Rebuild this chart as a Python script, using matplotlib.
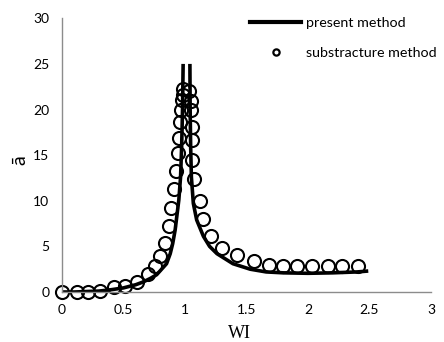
import numpy as np
import matplotlib
matplotlib.use("Agg")
import matplotlib.pyplot as plt
from matplotlib.lines import Line2D

# present method, left and right branches of the resonance curve
x_left = [0.0, 0.1, 0.2, 0.3, 0.4, 0.5, 0.6, 0.66, 0.72, 0.77, 0.81, 0.85,
          0.88, 0.9, 0.92, 0.93, 0.95, 0.964, 0.973, 0.98, 0.985]
y_left = [0.0, 0.0, 0.05, 0.1, 0.25, 0.45, 0.8, 1.1, 1.5, 1.9, 2.5, 3.1,
          4.2, 5.3, 6.8, 7.9, 10.1, 12.6, 16.0, 20.0, 25.0]
x_right = [1.04, 1.042, 1.046, 1.052, 1.068, 1.095, 1.15, 1.2, 1.26, 1.39,
           1.53, 1.66, 1.8, 2.0, 2.2, 2.4, 2.49]
y_right = [25.0, 20.0, 16.0, 12.6, 9.7, 7.9, 6.1, 5.0, 4.2, 3.1,
           2.5, 2.2, 2.1, 2.05, 2.1, 2.2, 2.3]

# substructure method
x_sub = [0.0, 0.12, 0.21, 0.31, 0.42, 0.51, 0.61, 0.70, 0.76, 0.80, 0.84,
         0.87, 0.89, 0.91, 0.93, 0.945, 0.955, 0.962, 0.968, 0.975, 0.982,
         0.986, 1.035, 1.045, 1.05, 1.055, 1.06, 1.06, 1.07, 1.12, 1.15,
         1.21, 1.30, 1.42, 1.56, 1.68, 1.80, 1.91, 2.03, 2.16, 2.28, 2.41]
y_sub = [0.0, 0.0, 0.05, 0.1, 0.5, 0.7, 1.15, 2.0, 2.8, 3.9, 5.4,
         7.2, 9.2, 11.3, 13.3, 15.2, 16.9, 18.6, 19.9, 21.0, 21.6,
         22.2, 22.0, 20.9, 19.9, 18.1, 16.7, 14.5, 12.4, 10.0, 8.0,
         6.1, 4.8, 4.05, 3.4, 3.0, 2.9, 2.8, 2.8, 2.8, 2.8, 2.8]

x_ticks = [0, 0.5, 1, 1.5, 2, 2.5, 3]
x_tick_labels = ["0", "0.5", "1", "1.5", "2", "2.5", "3"]
y_ticks = [0, 5, 10, 15, 20, 25, 30]

fig = plt.figure(figsize=(4.44, 3.42), dpi=100)
ax = fig.add_axes([0.1396, 0.1462, 0.8311, 0.8003])

ax.plot(x_left, y_left, color="black", lw=2.6, solid_capstyle="butt")
ax.plot(x_right, y_right, color="black", lw=2.6, solid_capstyle="butt")
ax.plot(x_sub, y_sub, ls="none", marker="o", ms=9.4, mfc="none",
        mec="black", mew=1.5, clip_on=False)

ax.set_xlim(0, 3)
ax.set_ylim(0, 30)
ax.set_xticks(x_ticks)
ax.set_xticklabels(x_tick_labels)
ax.set_yticks(y_ticks)
ax.tick_params(length=0, labelsize=10, pad=9)
for lab in ax.get_xticklabels() + ax.get_yticklabels():
    lab.set_family("Lato")

for side in ["top", "right"]:
    ax.spines[side].set_visible(False)
for side in ["left", "bottom"]:
    ax.spines[side].set_color("#8c8c8c")
    ax.spines[side].set_linewidth(1.0)

ax.set_xlabel("WI", family="Liberation Serif", fontsize=13)
ax.xaxis.set_label_coords(0.48, -0.12)
ax.set_ylabel("ā", family="Lato", fontsize=14)
ax.yaxis.set_label_coords(-0.092, 0.48)

handles = [
    Line2D([], [], color="black", lw=3),
    Line2D([], [], ls="none", marker="o", ms=4.5, mfc="none", mec="black", mew=1.6),
]
leg = fig.legend(handles, ["present method", "substracture method"],
                 loc="upper left", bbox_to_anchor=(0.563, 0.95),
                 frameon=False, prop={"family": "Lato", "size": 10.3},
                 handlelength=3.6, handletextpad=0.3, labelspacing=1.25,
                 borderaxespad=0, borderpad=0)

fig.savefig("out.png", dpi=100)
